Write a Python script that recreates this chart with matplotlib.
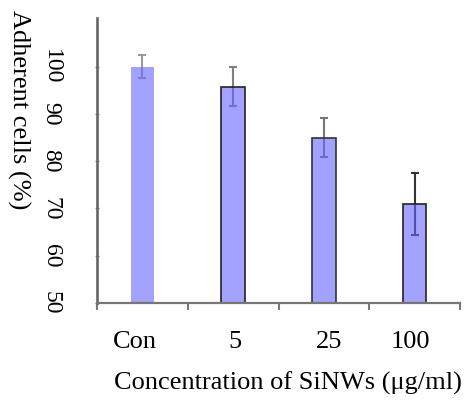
import numpy as np
import matplotlib
matplotlib.use("Agg")
import matplotlib.pyplot as plt
import matplotlib.transforms as mtransforms

# Data
categories = ["Con", "5", "25", "100"]
adherent = [100.0, 95.8, 85.0, 70.9]
errors = [2.5, 4.1, 4.2, 6.6]
y_ticks = [50, 60, 70, 80, 90, 100]

err_colors = ["#9a9a9a", "#808080", "#777777", "#333333"]
edge_colors = ["none", "#222222", "#333333", "#222222"]
label_shift = [-7, 2, 5, -4]  # px, tick labels are not quite centred in the original

plt.rcParams["font.family"] = ["Liberation Serif", "DejaVu Serif"]

fig = plt.figure(figsize=(4.67, 4.01), dpi=100)
ax = fig.add_axes([97 / 467, 1 - 303 / 401, (460 - 97) / 467, (303 - 18) / 401])

x = np.arange(len(categories)) + 0.5

# error bars first so the translucent bars tint the lower half blue
for xi, v, e, c in zip(x, adherent, errors, err_colors):
    ax.errorbar(xi, v, yerr=e, fmt="none", ecolor=c, elinewidth=1.5,
                capsize=3, capthick=1.5, zorder=1)

ax.bar(x, [v - 50 for v in adherent], bottom=50, width=0.26,
       color=(0.4, 0.4, 1.0, 0.6), edgecolor=edge_colors, linewidth=1.2, zorder=2)

ax.set_xlim(0, len(categories))
ax.set_ylim(50, 110.3)

# major ticks on category borders, labels on minor ticks
ax.set_xticks(np.arange(len(categories) + 1))
ax.set_xticklabels([])
ax.set_xticks(x, minor=True)
ax.set_xticklabels(categories, minor=True, fontsize=19)
ax.tick_params(axis="x", which="major", direction="out", length=5, width=1.5, colors="#777777")
ax.tick_params(axis="x", which="minor", length=0, pad=20)

ax.set_yticks(y_ticks)
ax.set_yticklabels([str(t) for t in y_ticks], rotation=-90, va="center", fontsize=17)
ax.tick_params(axis="y", direction="inout", length=3, width=1, colors="#888888", pad=24)
for lbl in ax.get_yticklabels():
    lbl.set_color("black")
for lbl, dx in zip(ax.get_xticklabels(minor=True), label_shift):
    lbl.set_color("black")
    lbl.set_transform(lbl.get_transform() +
                      mtransforms.ScaledTranslation(dx / 100, 0, fig.dpi_scale_trans))

for s in ["top", "right"]:
    ax.spines[s].set_visible(False)
ax.spines["left"].set_color("#666666")
ax.spines["left"].set_linewidth(1.9)
ax.spines["bottom"].set_color("#777777")
ax.spines["bottom"].set_linewidth(1.6)

ax.set_xlabel("Concentration of SiNWs (\u03bcg/ml)", fontsize=19)
ax.xaxis.set_label_coords(0.525, -0.24)
ax.set_ylabel("Adherent cells (%)", fontsize=19, rotation=-90, ha="center", va="center")
ax.yaxis.set_label_coords(-0.215, 0.677)

fig.savefig("out.png", dpi=100)
